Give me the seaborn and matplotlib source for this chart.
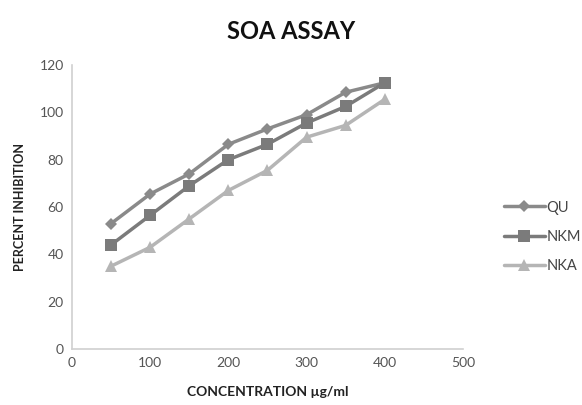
import pandas as pd
import matplotlib
matplotlib.use('Agg')
import matplotlib.pyplot as plt
import seaborn as sns

# --- data ---
concentration = [50, 100, 150, 200, 250, 300, 350, 400]
qu = [53, 65.5, 74, 86.5, 93, 99, 108.5, 112.5]
nkm = [44, 56.5, 69, 80, 86.5, 95.5, 102.5, 112.5]
nka = [35, 43, 55, 67, 75.5, 89.5, 94.5, 105.5]
series_names = ['QU', 'NKM', 'NKA']

df = pd.DataFrame({
    'conc': concentration * 3,
    'value': qu + nkm + nka,
    'series': [s for s in series_names for _ in concentration],
})

sns.set_style('white')
plt.rcParams['font.family'] = ['Lato', 'DejaVu Sans']

fig = plt.figure(figsize=(5.82, 4.05), dpi=100)
ax = fig.add_axes([0.1237, 0.1383, 0.6718, 0.7012])

colors = {'QU': '#8a8a8a', 'NKM': '#7b7b7b', 'NKA': '#b5b5b5'}
markers = {'QU': 'D', 'NKM': 's', 'NKA': '^'}
sizes = {'QU': 6, 'NKM': 8, 'NKA': 8}

for name in series_names:
    sub = df[df['series'] == name]
    sns.lineplot(data=sub, x='conc', y='value', ax=ax, color=colors[name],
                 marker=markers[name], markersize=sizes[name], linewidth=2.5,
                 markeredgewidth=0, label=name)

ax.set_xlim(0, 500)
ax.set_ylim(0, 120)
ax.set_xticks(range(0, 501, 100))
ax.set_yticks(range(0, 121, 20))
ax.tick_params(axis='both', labelsize=10, colors='#555555', length=0, pad=6)

for side in ['top', 'right']:
    ax.spines[side].set_visible(False)
for side in ['left', 'bottom']:
    ax.spines[side].set_color('#d0d0d0')
    ax.spines[side].set_linewidth(1.2)

ax.set_xlabel('CONCENTRATION µg/ml', fontsize=10, fontweight='bold', color='#222222', labelpad=12)
ax.set_ylabel('PERCENT INHIBITION', fontsize=9, fontweight='bold', color='#222222', labelpad=10)
fig.suptitle('SOA ASSAY', x=0.5, y=0.95, fontsize=17, fontweight='bold', color='#111111')

ax.legend(loc='center left', bbox_to_anchor=(1.09, 0.395), frameon=False,
          borderaxespad=0, fontsize=10.5, labelcolor='#444444', handlelength=2.8,
          labelspacing=1.05, handletextpad=0.1)

fig.savefig('out.png', dpi=100)
